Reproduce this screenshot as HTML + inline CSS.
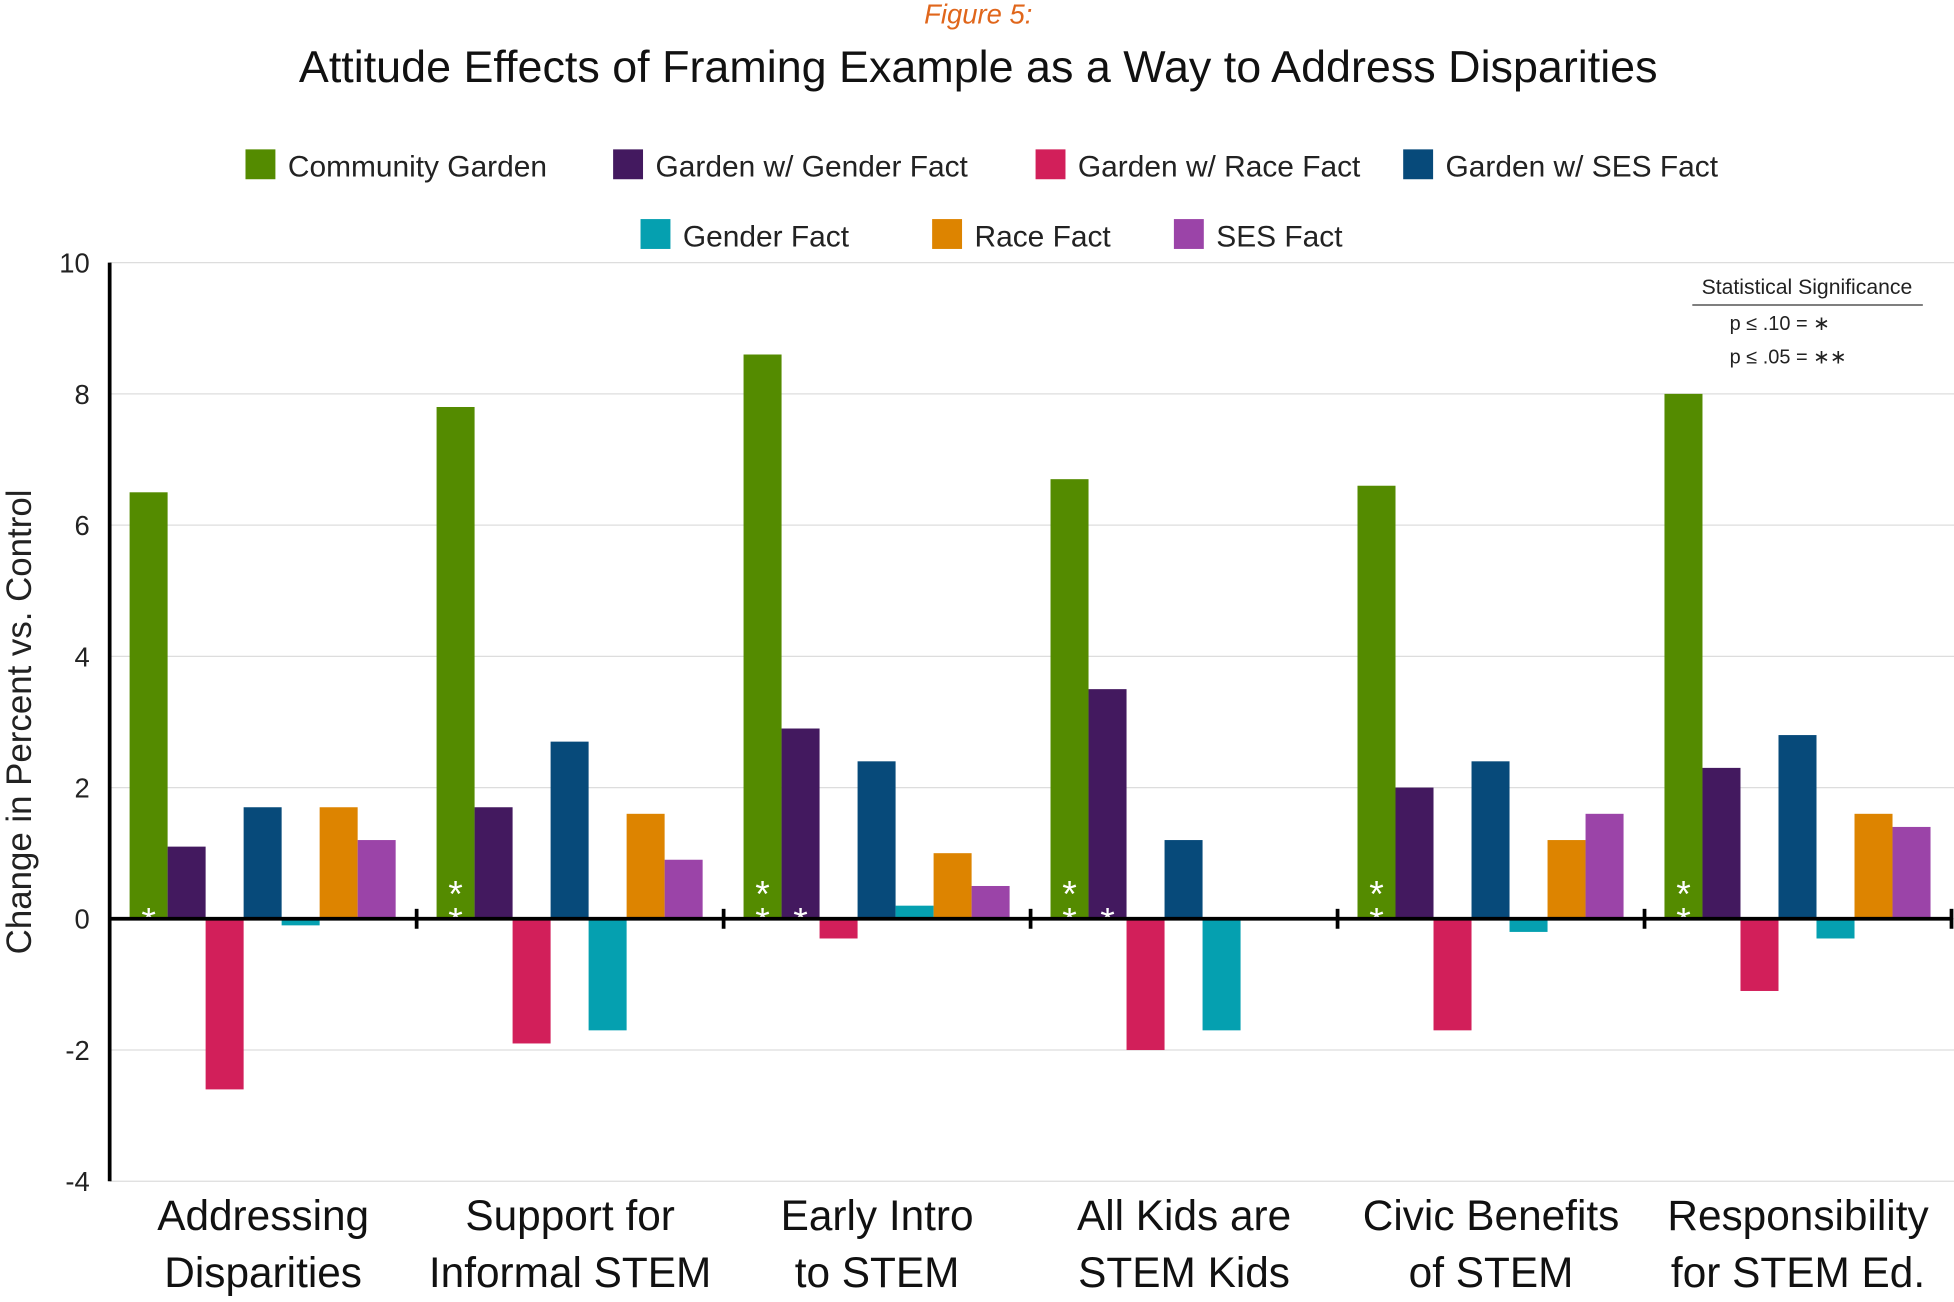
<!DOCTYPE html>
<html><head><meta charset="utf-8"><style>
html,body{margin:0;padding:0;background:#fff;}
svg{display:block;font-family:"Liberation Sans",sans-serif;}
</style></head><body>
<svg id="chart" width="1954" height="1302" viewBox="0 0 1568 1046" preserveAspectRatio="none" xmlns="http://www.w3.org/2000/svg">
<text x="785" y="19" text-anchor="middle" font-size="22" font-style="italic" fill="#e0661b">Figure 5:</text>
<text x="785" y="66" text-anchor="middle" font-size="36" fill="#111">Attitude Effects of Framing Example as a Way to Address Disparities</text>
<g id="grid"></g>
<g id="bars"></g>
<g id="axes"></g>
<g id="legend"></g>
<g>
<text x="1450" y="236" text-anchor="middle" font-size="17" fill="#222">Statistical Significance</text>
<line x1="1358" y1="245" x2="1543" y2="245" stroke="#333" stroke-width="1"/>
<text x="1388" y="265" font-size="16" fill="#222">p ≤ .10 = ∗</text>
<text x="1388" y="292" font-size="16" fill="#222">p ≤ .05 = ∗∗</text>
</g>
<text transform="translate(25,580) rotate(-90)" text-anchor="middle" font-size="28" fill="#222">Change in Percent vs. Control</text>
</svg>
<script>
const categories=[["Addressing","Disparities"],["Support for","Informal STEM"],["Early Intro","to STEM"],["All Kids are","STEM Kids"],["Civic Benefits","of STEM"],["Responsibility","for STEM Ed."]];
const seriesNames=["Community Garden","Garden w/ Gender Fact","Garden w/ Race Fact","Garden w/ SES Fact","Gender Fact","Race Fact","SES Fact"];
const communityGarden=[6.5,7.8,8.6,6.7,6.6,8.0];
const gardenGender=[1.1,1.7,2.9,3.5,2.0,2.3];
const gardenRace=[-2.6,-1.9,-0.3,-2.0,-1.7,-1.1];
const gardenSES=[1.7,2.7,2.4,1.2,2.4,2.8];
const genderFact=[-0.1,-1.7,0.2,-1.7,-0.2,-0.3];
const raceFact=[1.7,1.6,1.0,0,1.2,1.6];
const sesFact=[1.2,0.9,0.5,0,1.6,1.4];
const sigGreen=["*","**","**","**","**","**"];
const sigPurple=["","","*","*","",""];
const yTicks=[10,8,6,4,2,0,-2,-4];
const series=[communityGarden,gardenGender,gardenRace,gardenSES,genderFact,raceFact,sesFact];
const colors=["#548b00","#43195f","#d21f5a","#074a7a","#05a0b0","#dd8400","#9b44a8"];
const NS="http://www.w3.org/2000/svg";
const x0=88,x1=1566,yTop=211,yBot=949,vMax=10,vMin=-4;
const y=v=>yTop+(vMax-v)/(vMax-vMin)*(yBot-yTop);
const gw=(x1-x0)/categories.length,bw=30.5,pad=16;
function mk(tag,attrs,parent){const e=document.createElementNS(NS,tag);for(const k in attrs)e.setAttribute(k,attrs[k]);parent.appendChild(e);return e;}
const grid=document.getElementById('grid'),bars=document.getElementById('bars'),axes=document.getElementById('axes'),leg=document.getElementById('legend');
yTicks.forEach(t=>{
 const l=mk('line',{x1:x0,x2:1568,y1:y(t),y2:y(t),stroke:'#ddd','stroke-width':1},grid);
 
 
 const tx=mk('text',{x:72,y:y(t)+8,'text-anchor':'end','font-size':22,fill:'#222'},axes);
 tx.textContent=t;
 
 
});
series.forEach((s,si)=>{s.forEach((v,ci)=>{
 const bx=x0+ci*gw+pad+si*bw;
 const r=mk('rect',{x:bx,y:Math.min(y(v),y(0)),width:bw,height:Math.abs(y(v)-y(0)),fill:colors[si]},bars);
 
 
});});
[sigGreen,sigPurple].forEach((arr,si)=>arr.forEach((s,ci)=>{
 const cx=x0+ci*gw+pad+si*bw+bw/2;
 for(let k=0;k<s.length;k++){
  const t=mk('text',{x:cx,y:y(0)+12-(s.length-1-k)*22,'text-anchor':'middle','font-size':30,fill:'#fff'},bars);
  t.textContent='*';
  
  
 }
}));
const ya=mk('line',{x1:x0,x2:x0,y1:yTop,y2:yBot,stroke:'#000','stroke-width':3},axes);


const xa=mk('line',{x1:x0,x2:x1,y1:y(0),y2:y(0),stroke:'#000','stroke-width':3},axes);


categories.forEach((c,ci)=>{
 const tk=mk('line',{x1:x0+(ci+1)*gw,x2:x0+(ci+1)*gw,y1:y(0)-8,y2:y(0)+8,stroke:'#000','stroke-width':3},axes);
 
 
 c.forEach((line,li)=>{
  const t=mk('text',{x:x0+(ci+0.5)*gw,y:988+li*46,'text-anchor':'middle','font-size':34,fill:'#111',style:'font-family:"Liberation Sans Narrow","Liberation Sans",sans-serif'},axes);
  t.textContent=line;
  
  
 });
});
const legPos=[[197,133],[492,133],[831,133],[1126,133],[514,189],[748,189],[942,189]];
seriesNames.forEach((n,i)=>{
 const g=mk('g',{},leg);
 
 
 mk('rect',{x:legPos[i][0],y:legPos[i][1]-13,width:24,height:24,fill:colors[i]},g);
 const t=mk('text',{x:legPos[i][0]+34,y:legPos[i][1]+9,'font-size':24,fill:'#222'},g);
 t.textContent=n;
});
</script>
</body></html>
